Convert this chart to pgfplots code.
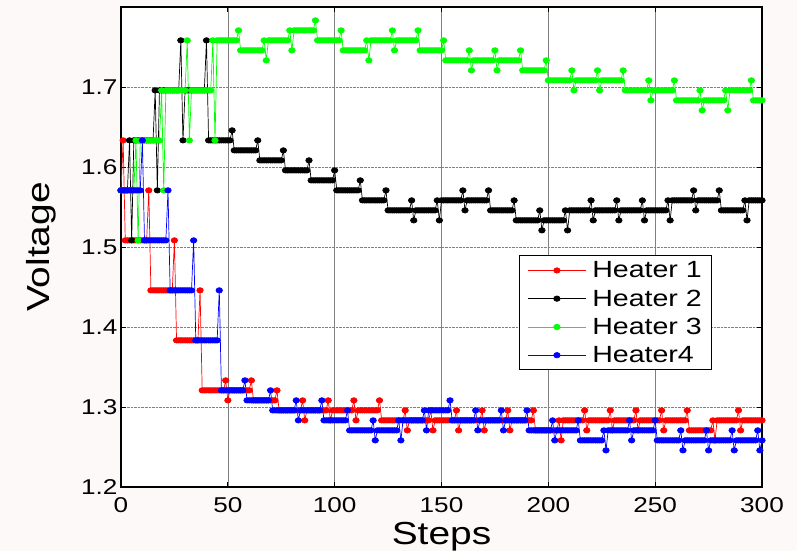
\documentclass[border=0pt]{standalone}
\usepackage{fontspec}
\setmainfont{Liberation Sans}[FakeStretch=1.22]
\usepackage{pgfplots}
\usepackage{pgfplotstable}
\pgfplotsset{compat=1.18}
\usetikzlibrary{backgrounds}
\definecolor{figbg}{RGB}{252,249,248}

% step, heater 1..4 voltages
\pgfplotstableread{
t h1 h2 h3 h4
0 1.5708 1.5708 1.5708 1.5708
1 1.6333 1.5708 1.5708 1.5708
2 1.5083 1.5708 1.5708 1.5708
3 1.5083 1.5708 1.5708 1.5708
4 1.5083 1.6333 1.5708 1.5708
5 1.5083 1.5083 1.5708 1.5708
6 1.5083 1.6333 1.5708 1.5708
7 1.5083 1.6333 1.6333 1.5708
8 1.5083 1.6333 1.5083 1.5708
9 1.5083 1.6333 1.6333 1.5708
10 1.5083 1.6333 1.6333 1.6333
11 1.5083 1.6333 1.6333 1.5083
12 1.5083 1.6333 1.6333 1.5083
13 1.5708 1.6333 1.6333 1.5083
14 1.4458 1.6333 1.6333 1.5083
15 1.4458 1.6333 1.6333 1.5083
16 1.4458 1.6958 1.6333 1.5083
17 1.4458 1.5708 1.6333 1.5083
18 1.4458 1.6958 1.6333 1.5083
19 1.4458 1.6958 1.6958 1.5083
20 1.4458 1.6958 1.5708 1.5083
21 1.4458 1.6958 1.6958 1.5083
22 1.4458 1.6958 1.6958 1.5708
23 1.4458 1.6958 1.6958 1.4458
24 1.4458 1.6958 1.6958 1.4458
25 1.5083 1.6958 1.6958 1.4458
26 1.3833 1.6958 1.6958 1.4458
27 1.3833 1.6958 1.6958 1.4458
28 1.3833 1.7583 1.6958 1.4458
29 1.3833 1.6333 1.6958 1.4458
30 1.3833 1.6958 1.6958 1.4458
31 1.3833 1.6958 1.7583 1.4458
32 1.3833 1.6958 1.6333 1.4458
33 1.3833 1.6958 1.6958 1.4458
34 1.3833 1.6958 1.6958 1.5083
35 1.3833 1.6958 1.6958 1.3833
36 1.3833 1.6958 1.6958 1.3833
37 1.4458 1.6958 1.6958 1.3833
38 1.3208 1.6958 1.6958 1.3833
39 1.3208 1.6958 1.6958 1.3833
40 1.3208 1.7583 1.6958 1.3833
41 1.3208 1.6333 1.6958 1.3833
42 1.3208 1.6333 1.6958 1.3833
43 1.3208 1.6333 1.7583 1.3833
44 1.3208 1.6333 1.6333 1.3833
45 1.3208 1.6333 1.7583 1.3833
46 1.3208 1.6333 1.7583 1.4458
47 1.3208 1.6333 1.7583 1.3208
48 1.3208 1.6333 1.7583 1.3208
49 1.3333 1.6333 1.7583 1.3208
50 1.3083 1.6333 1.7583 1.3208
51 1.3208 1.6333 1.7583 1.3208
52 1.3208 1.6458 1.7583 1.3208
53 1.3208 1.6208 1.7583 1.3208
54 1.3208 1.6208 1.7583 1.3208
55 1.3208 1.6208 1.7708 1.3208
56 1.3208 1.6208 1.7458 1.3208
57 1.3208 1.6208 1.7458 1.3208
58 1.3208 1.6208 1.7458 1.3333
59 1.3208 1.6208 1.7458 1.3083
60 1.3208 1.6208 1.7458 1.3083
61 1.3333 1.6208 1.7458 1.3083
62 1.3083 1.6208 1.7458 1.3083
63 1.3083 1.6208 1.7458 1.3083
64 1.3083 1.6333 1.7458 1.3083
65 1.3083 1.6083 1.7458 1.3083
66 1.3083 1.6083 1.7458 1.3083
67 1.3083 1.6083 1.7583 1.3083
68 1.3083 1.6083 1.7333 1.3083
69 1.3083 1.6083 1.7583 1.3083
70 1.3083 1.6083 1.7583 1.3208
71 1.3083 1.6083 1.7583 1.2958
72 1.3083 1.6083 1.7583 1.2958
73 1.3208 1.6083 1.7583 1.2958
74 1.2958 1.6083 1.7583 1.2958
75 1.2958 1.6083 1.7583 1.2958
76 1.2958 1.6208 1.7583 1.2958
77 1.2958 1.5958 1.7583 1.2958
78 1.2958 1.5958 1.7583 1.2958
79 1.2958 1.5958 1.7708 1.2958
80 1.2958 1.5958 1.7458 1.2958
81 1.2958 1.5958 1.7708 1.2958
82 1.2958 1.5958 1.7708 1.3083
83 1.2958 1.5958 1.7708 1.2833
84 1.2958 1.5958 1.7708 1.2958
85 1.3083 1.5958 1.7708 1.2958
86 1.2833 1.5958 1.7708 1.2958
87 1.2958 1.5958 1.7708 1.2958
88 1.2958 1.6083 1.7708 1.2958
89 1.2958 1.5833 1.7708 1.2958
90 1.2958 1.5833 1.7708 1.2958
91 1.2958 1.5833 1.7833 1.2958
92 1.2958 1.5833 1.7583 1.2958
93 1.2958 1.5833 1.7583 1.2958
94 1.2958 1.5833 1.7583 1.3083
95 1.2958 1.5833 1.7583 1.2833
96 1.2958 1.5833 1.7583 1.2833
97 1.3083 1.5833 1.7583 1.2833
98 1.2833 1.5833 1.7583 1.2833
99 1.2958 1.5833 1.7583 1.2833
100 1.2958 1.5958 1.7583 1.2833
101 1.2958 1.5708 1.7583 1.2833
102 1.2958 1.5708 1.7583 1.2833
103 1.2958 1.5708 1.7708 1.2833
104 1.2958 1.5708 1.7458 1.2833
105 1.2958 1.5708 1.7458 1.2833
106 1.2958 1.5708 1.7458 1.2958
107 1.2958 1.5708 1.7458 1.2708
108 1.2958 1.5708 1.7458 1.2708
109 1.3083 1.5708 1.7458 1.2708
110 1.2833 1.5708 1.7458 1.2708
111 1.2958 1.5708 1.7458 1.2708
112 1.2958 1.5833 1.7458 1.2708
113 1.2958 1.5583 1.7458 1.2708
114 1.2958 1.5583 1.7458 1.2708
115 1.2958 1.5583 1.7583 1.2708
116 1.2958 1.5583 1.7333 1.2708
117 1.2958 1.5583 1.7583 1.2708
118 1.2958 1.5583 1.7583 1.2833
119 1.2958 1.5583 1.7583 1.2583
120 1.2958 1.5583 1.7583 1.2708
121 1.3083 1.5583 1.7583 1.2708
122 1.2833 1.5583 1.7583 1.2708
123 1.2833 1.5583 1.7583 1.2708
124 1.2833 1.5708 1.7583 1.2708
125 1.2833 1.5458 1.7583 1.2708
126 1.2833 1.5458 1.7583 1.2708
127 1.2833 1.5458 1.7708 1.2708
128 1.2833 1.5458 1.7458 1.2708
129 1.2833 1.5458 1.7583 1.2708
130 1.2833 1.5458 1.7583 1.2833
131 1.2833 1.5458 1.7583 1.2583
132 1.2833 1.5458 1.7583 1.2833
133 1.2958 1.5458 1.7583 1.2833
134 1.2708 1.5458 1.7583 1.2833
135 1.2833 1.5458 1.7583 1.2833
136 1.2833 1.5583 1.7583 1.2833
137 1.2833 1.5333 1.7583 1.2833
138 1.2833 1.5458 1.7583 1.2833
139 1.2833 1.5458 1.7708 1.2833
140 1.2833 1.5458 1.7458 1.2833
141 1.2833 1.5458 1.7458 1.2833
142 1.2833 1.5458 1.7458 1.2958
143 1.2833 1.5458 1.7458 1.2708
144 1.2833 1.5458 1.7458 1.2958
145 1.2958 1.5458 1.7458 1.2958
146 1.2708 1.5458 1.7458 1.2958
147 1.2833 1.5458 1.7458 1.2958
148 1.2833 1.5583 1.7458 1.2958
149 1.2833 1.5333 1.7458 1.2958
150 1.2833 1.5583 1.7458 1.2958
151 1.2833 1.5583 1.7583 1.2958
152 1.2833 1.5583 1.7333 1.2958
153 1.2833 1.5583 1.7333 1.2958
154 1.2833 1.5583 1.7333 1.3083
155 1.2833 1.5583 1.7333 1.2833
156 1.2833 1.5583 1.7333 1.2833
157 1.2958 1.5583 1.7333 1.2833
158 1.2708 1.5583 1.7333 1.2833
159 1.2833 1.5583 1.7333 1.2833
160 1.2833 1.5708 1.7333 1.2833
161 1.2833 1.5458 1.7333 1.2833
162 1.2833 1.5583 1.7333 1.2833
163 1.2833 1.5583 1.7458 1.2833
164 1.2833 1.5583 1.7208 1.2833
165 1.2833 1.5583 1.7333 1.2833
166 1.2833 1.5583 1.7333 1.2958
167 1.2833 1.5583 1.7333 1.2708
168 1.2833 1.5583 1.7333 1.2833
169 1.2958 1.5583 1.7333 1.2833
170 1.2708 1.5583 1.7333 1.2833
171 1.2833 1.5583 1.7333 1.2833
172 1.2833 1.5708 1.7333 1.2833
173 1.2833 1.5458 1.7333 1.2833
174 1.2833 1.5458 1.7333 1.2833
175 1.2833 1.5458 1.7458 1.2833
176 1.2833 1.5458 1.7208 1.2833
177 1.2833 1.5458 1.7333 1.2833
178 1.2833 1.5458 1.7333 1.2958
179 1.2833 1.5458 1.7333 1.2708
180 1.2833 1.5458 1.7333 1.2833
181 1.2958 1.5458 1.7333 1.2833
182 1.2708 1.5458 1.7333 1.2833
183 1.2833 1.5458 1.7333 1.2833
184 1.2833 1.5583 1.7333 1.2833
185 1.2833 1.5333 1.7333 1.2833
186 1.2833 1.5333 1.7333 1.2833
187 1.2833 1.5333 1.7458 1.2833
188 1.2833 1.5333 1.7208 1.2833
189 1.2833 1.5333 1.7208 1.2833
190 1.2833 1.5333 1.7208 1.2958
191 1.2833 1.5333 1.7208 1.2708
192 1.2833 1.5333 1.7208 1.2708
193 1.2958 1.5333 1.7208 1.2708
194 1.2708 1.5333 1.7208 1.2708
195 1.2708 1.5333 1.7208 1.2708
196 1.2708 1.5458 1.7208 1.2708
197 1.2708 1.5208 1.7208 1.2708
198 1.2708 1.5333 1.7208 1.2708
199 1.2708 1.5333 1.7333 1.2708
200 1.2708 1.5333 1.7083 1.2708
201 1.2708 1.5333 1.7083 1.2708
202 1.2708 1.5333 1.7083 1.2833
203 1.2708 1.5333 1.7083 1.2583
204 1.2708 1.5333 1.7083 1.2708
205 1.2833 1.5333 1.7083 1.2708
206 1.2583 1.5333 1.7083 1.2708
207 1.2833 1.5333 1.7083 1.2708
208 1.2833 1.5458 1.7083 1.2708
209 1.2833 1.5208 1.7083 1.2708
210 1.2833 1.5458 1.7083 1.2708
211 1.2833 1.5458 1.7208 1.2708
212 1.2833 1.5458 1.6958 1.2708
213 1.2833 1.5458 1.7083 1.2708
214 1.2833 1.5458 1.7083 1.2833
215 1.2833 1.5458 1.7083 1.2583
216 1.2833 1.5458 1.7083 1.2583
217 1.2958 1.5458 1.7083 1.2583
218 1.2708 1.5458 1.7083 1.2583
219 1.2833 1.5458 1.7083 1.2583
220 1.2833 1.5583 1.7083 1.2583
221 1.2833 1.5333 1.7083 1.2583
222 1.2833 1.5458 1.7083 1.2583
223 1.2833 1.5458 1.7208 1.2583
224 1.2833 1.5458 1.6958 1.2583
225 1.2833 1.5458 1.7083 1.2583
226 1.2833 1.5458 1.7083 1.2708
227 1.2833 1.5458 1.7083 1.2458
228 1.2833 1.5458 1.7083 1.2708
229 1.2958 1.5458 1.7083 1.2708
230 1.2708 1.5458 1.7083 1.2708
231 1.2833 1.5458 1.7083 1.2708
232 1.2833 1.5583 1.7083 1.2708
233 1.2833 1.5333 1.7083 1.2708
234 1.2833 1.5458 1.7083 1.2708
235 1.2833 1.5458 1.7208 1.2708
236 1.2833 1.5458 1.6958 1.2708
237 1.2833 1.5458 1.6958 1.2708
238 1.2833 1.5458 1.6958 1.2833
239 1.2833 1.5458 1.6958 1.2583
240 1.2833 1.5458 1.6958 1.2708
241 1.2958 1.5458 1.6958 1.2708
242 1.2708 1.5458 1.6958 1.2708
243 1.2833 1.5458 1.6958 1.2708
244 1.2833 1.5583 1.6958 1.2708
245 1.2833 1.5333 1.6958 1.2708
246 1.2833 1.5458 1.6958 1.2708
247 1.2833 1.5458 1.7083 1.2708
248 1.2833 1.5458 1.6833 1.2708
249 1.2833 1.5458 1.6958 1.2708
250 1.2833 1.5458 1.6958 1.2833
251 1.2833 1.5458 1.6958 1.2583
252 1.2833 1.5458 1.6958 1.2583
253 1.2958 1.5458 1.6958 1.2583
254 1.2708 1.5458 1.6958 1.2583
255 1.2833 1.5458 1.6958 1.2583
256 1.2833 1.5583 1.6958 1.2583
257 1.2833 1.5333 1.6958 1.2583
258 1.2833 1.5583 1.6958 1.2583
259 1.2833 1.5583 1.7083 1.2583
260 1.2833 1.5583 1.6833 1.2583
261 1.2833 1.5583 1.6833 1.2583
262 1.2833 1.5583 1.6833 1.2708
263 1.2833 1.5583 1.6833 1.2458
264 1.2833 1.5583 1.6833 1.2583
265 1.2958 1.5583 1.6833 1.2583
266 1.2708 1.5583 1.6833 1.2583
267 1.2708 1.5583 1.6833 1.2583
268 1.2708 1.5708 1.6833 1.2583
269 1.2708 1.5458 1.6833 1.2583
270 1.2708 1.5583 1.6833 1.2583
271 1.2708 1.5583 1.6958 1.2583
272 1.2708 1.5583 1.6708 1.2583
273 1.2708 1.5583 1.6833 1.2583
274 1.2708 1.5583 1.6833 1.2708
275 1.2708 1.5583 1.6833 1.2458
276 1.2708 1.5583 1.6833 1.2583
277 1.2833 1.5583 1.6833 1.2583
278 1.2583 1.5583 1.6833 1.2583
279 1.2833 1.5583 1.6833 1.2583
280 1.2833 1.5708 1.6833 1.2583
281 1.2833 1.5458 1.6833 1.2583
282 1.2833 1.5458 1.6833 1.2583
283 1.2833 1.5458 1.6958 1.2583
284 1.2833 1.5458 1.6708 1.2583
285 1.2833 1.5458 1.6958 1.2583
286 1.2833 1.5458 1.6958 1.2708
287 1.2833 1.5458 1.6958 1.2458
288 1.2833 1.5458 1.6958 1.2583
289 1.2958 1.5458 1.6958 1.2583
290 1.2708 1.5458 1.6958 1.2583
291 1.2833 1.5458 1.6958 1.2583
292 1.2833 1.5583 1.6958 1.2583
293 1.2833 1.5333 1.6958 1.2583
294 1.2833 1.5583 1.6958 1.2583
295 1.2833 1.5583 1.7083 1.2583
296 1.2833 1.5583 1.6833 1.2583
297 1.2833 1.5583 1.6833 1.2583
298 1.2833 1.5583 1.6833 1.2708
299 1.2833 1.5583 1.6833 1.2458
300 1.2833 1.5583 1.6833 1.2583
}\heaters

\begin{document}
\begin{tikzpicture}
\begin{axis}[
  scale only axis, width=641bp, height=480bp,
  xmin=0, xmax=300, ymin=1.2, ymax=1.8,
  xtick={0,50,100,150,200,250,300},
  ytick={1.2,1.3,1.4,1.5,1.6,1.7},
  yticklabel style={/pgf/number format/.cd, fixed, precision=1, fixed zerofill},
  xticklabel style={yshift=-7bp},
  /pgf/number format/assume math mode=true,
  tick label style={font=\fontsize{21.5}{24}\selectfont, black},
  xtick pos=both, ytick pos=both, tick align=inside,
  major tick length=5bp,
  tick style={black, line width=0.8bp},
  axis line style={black, line width=1.2bp},
  axis background/.style={fill=white},
  grid=major,
  major x grid style={gray, line width=0.6bp},
  major y grid style={gray, densely dotted, line width=0.6bp},
  xlabel={Steps}, ylabel={Voltage},
  label style={font=\fontsize{32}{36}\selectfont},
  xlabel style={at={(axis description cs:0.5,-0.104)}, anchor=center},
  ylabel style={at={(axis description cs:-0.124,0.5)}, anchor=center},
  clip=false,
  legend style={at={(axis description cs:0.621,0.483)}, anchor=north west,
    draw=black, line width=1bp, fill=white, inner xsep=8bp, inner ysep=4bp,
    font=\fontsize{23.5}{26}\selectfont, row sep=6.5bp,
    /tikz/every odd column/.append style={column sep=4bp}},
  legend cell align=left,
  legend image code/.code={\draw[mark repeat=2, mark phase=2, #1]
    plot coordinates {(0bp,0bp) (29bp,0bp) (58bp,0bp)};},
  every axis plot/.append style={line width=0.7bp, mark=*, mark size=2.7bp,
    mark options={xscale=1.2, solid}},
]
\addplot[color=red] table[x=t, y=h1] {\heaters};
\addlegendentry{Heater 1}
\addplot[color=black] table[x=t, y=h2] {\heaters};
\addlegendentry{Heater 2}
\addplot[color=green] table[x=t, y=h3] {\heaters};
\addlegendentry{Heater 3}
\addplot[color=blue] table[x=t, y=h4] {\heaters};
\addlegendentry{Heater4}
\end{axis}
\begin{scope}[on background layer]
\fill[figbg] ([shift={(-121bp,-64bp)}]current axis.south west)
  rectangle ([shift={(35bp,7bp)}]current axis.north east);
\end{scope}
\end{tikzpicture}
\end{document}
